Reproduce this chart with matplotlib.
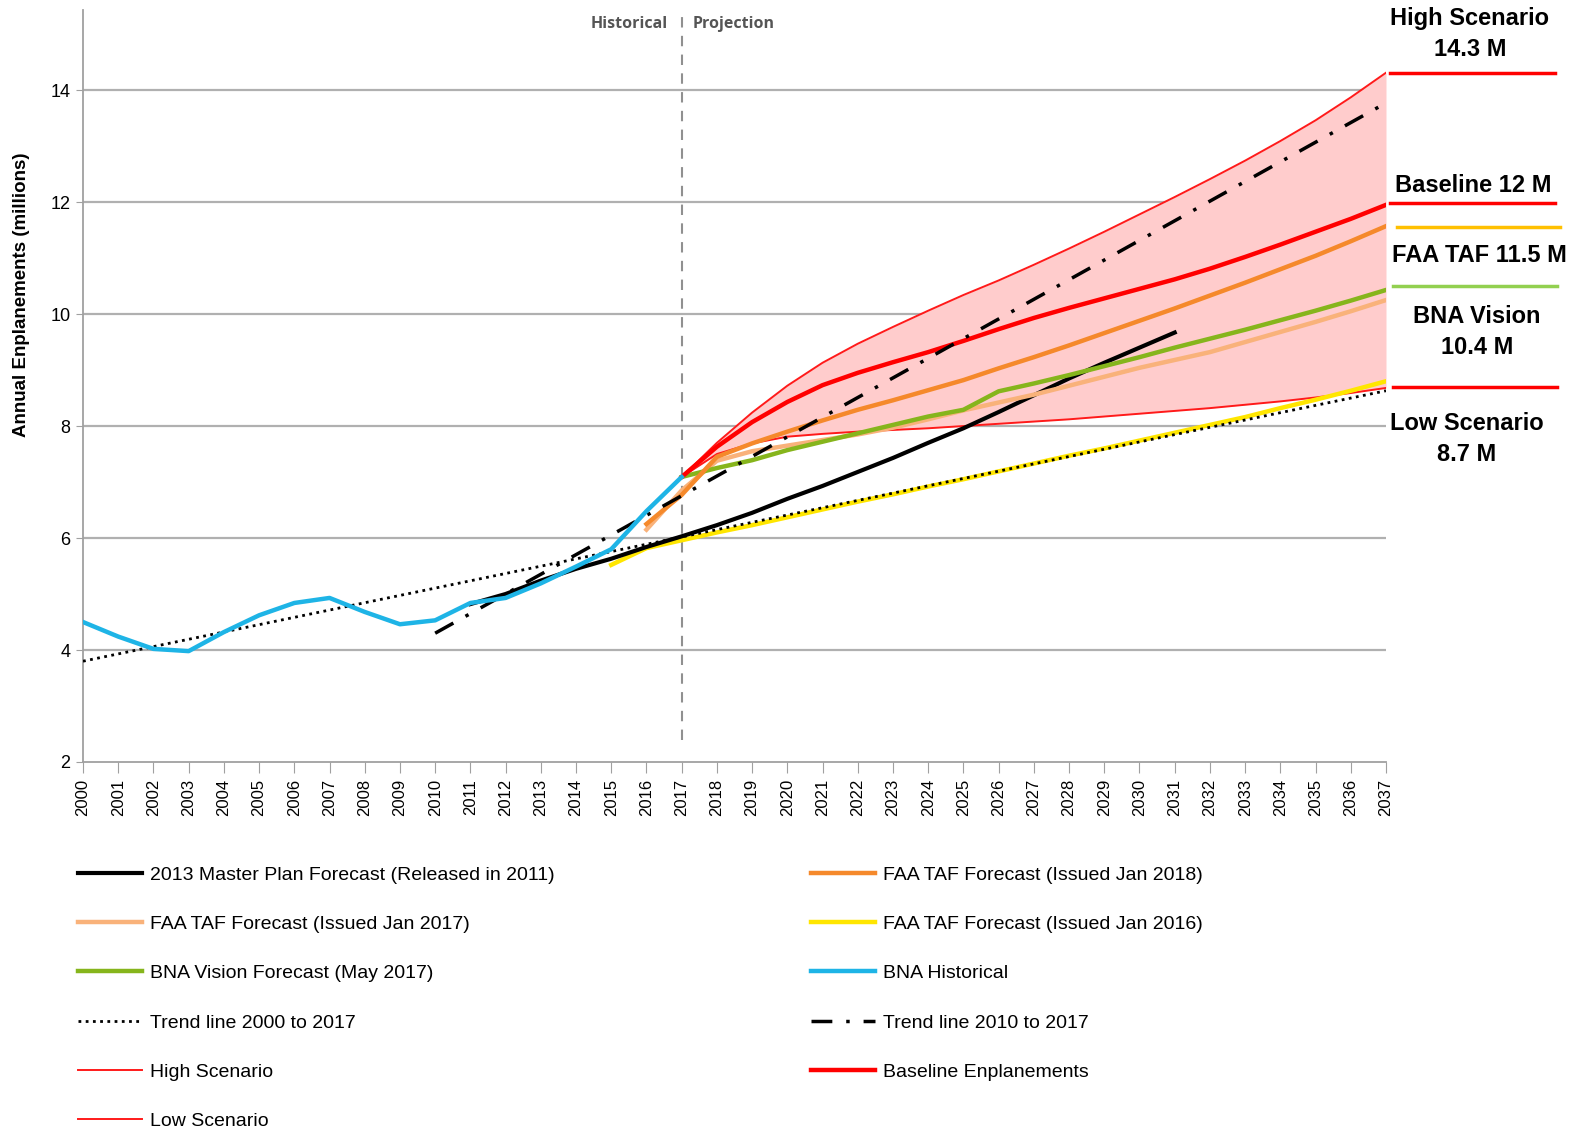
import numpy as np
import matplotlib
matplotlib.use("Agg")
import matplotlib.pyplot as plt
from matplotlib import font_manager

# font: narrow sans if available
names = {f.name for f in font_manager.fontManager.ttflist}
NARROW = 'Liberation Sans Narrow' if 'Liberation Sans Narrow' in names else 'Liberation Sans'
plt.rcParams['font.family'] = [NARROW, 'DejaVu Sans']

# ---- data (millions of enplanements) ----
hist_years = list(range(2000, 2018))
bna_historical = [4.50, 4.24, 4.02, 3.98, 4.32, 4.62, 4.84, 4.93, 4.68, 4.46,
                  4.53, 4.84, 4.93, 5.19, 5.49, 5.80, 6.48, 7.09]

mp_years = list(range(2011, 2032))
master_plan = [4.82, 5.00, 5.24, 5.45, 5.63, 5.84, 6.03, 6.23, 6.45, 6.70, 6.93,
               7.18, 7.43, 7.70, 7.96, 8.25, 8.55, 8.85, 9.13, 9.40, 9.67]

taf16_years = list(range(2015, 2038))
taf_2016 = [5.52, 5.82, 5.96, 6.10, 6.23, 6.37, 6.51, 6.65, 6.78, 6.92, 7.05, 7.19,
            7.33, 7.47, 7.60, 7.74, 7.88, 8.02, 8.16, 8.32, 8.47, 8.63, 8.80]

taf_years = list(range(2016, 2038))
taf_2017 = [6.15, 6.85, 7.38, 7.55, 7.65, 7.75, 7.85, 7.97, 8.12, 8.28, 8.42,
            8.56, 8.72, 8.88, 9.04, 9.18, 9.32, 9.50, 9.68, 9.86, 10.05, 10.25]
taf_2018 = [6.25, 6.77, 7.45, 7.69, 7.90, 8.10, 8.29, 8.46, 8.64, 8.82, 9.03,
            9.23, 9.44, 9.66, 9.88, 10.10, 10.33, 10.56, 10.80, 11.04, 11.30, 11.57]

proj_years = list(range(2017, 2038))
bna_vision = [7.09, 7.25, 7.39, 7.57, 7.72, 7.87, 8.02, 8.17, 8.29, 8.62, 8.76,
              8.91, 9.07, 9.23, 9.40, 9.56, 9.72, 9.89, 10.06, 10.24, 10.43]
baseline = [7.09, 7.63, 8.07, 8.43, 8.73, 8.95, 9.14, 9.32, 9.52, 9.73, 9.93,
            10.11, 10.28, 10.45, 10.62, 10.81, 11.02, 11.24, 11.47, 11.70, 11.95]
high_scen = [7.09, 7.70, 8.24, 8.72, 9.13, 9.47, 9.77, 10.06, 10.34, 10.60, 10.88,
             11.17, 11.47, 11.78, 12.09, 12.41, 12.74, 13.09, 13.46, 13.87, 14.31]
low_scen = [7.09, 7.50, 7.69, 7.81, 7.86, 7.90, 7.93, 7.96, 8.00, 8.04, 8.08,
            8.12, 8.17, 8.22, 8.27, 8.32, 8.38, 8.44, 8.51, 8.59, 8.68]

trend00_years = [2000, 2037]
trend00 = [3.80, 8.63]
trend10_years = [2010, 2037]
trend10 = [4.30, 13.77]

years_axis = list(range(2000, 2038))

fig = plt.figure(figsize=(15.7, 11.3), dpi=100)
ax = fig.add_axes([83 / 1570, 1 - 762 / 1130, (1386 - 83) / 1570, (762 - 10) / 1130])

ax.fill_between(proj_years, low_scen, high_scen, color='#ffcccc', lw=0, zorder=1)
h_high, = ax.plot(proj_years, high_scen, color='#ff1a1a', lw=1.4, zorder=3, label='High Scenario')
h_low, = ax.plot(proj_years, low_scen, color='#ff1a1a', lw=1.4, zorder=3, label='Low Scenario')
h_taf16, = ax.plot(taf16_years, taf_2016, color='#ffe600', lw=3.2, zorder=4,
                   label='FAA TAF Forecast (Issued Jan 2016)')
h_t00, = ax.plot(trend00_years, trend00, color='black', lw=2, ls=(0, (1, 1.6)), zorder=5,
                 label='Trend line 2000 to 2017')
h_mp, = ax.plot(mp_years, master_plan, color='black', lw=3, zorder=4,
                label='2013 Master Plan Forecast (Released in 2011)')
h_taf17, = ax.plot(taf_years, taf_2017, color='#f9b27a', lw=3.2, zorder=4,
                   label='FAA TAF Forecast (Issued Jan 2017)')
h_vis, = ax.plot(proj_years, bna_vision, color='#86b51c', lw=3.2, zorder=4,
                 label='BNA Vision Forecast (May 2017)')
h_taf18, = ax.plot(taf_years, taf_2018, color='#f5892b', lw=3.2, zorder=4,
                   label='FAA TAF Forecast (Issued Jan 2018)')
h_base, = ax.plot(proj_years, baseline, color='#ff0000', lw=3.2, zorder=5,
                  label='Baseline Enplanements')
h_t10, = ax.plot(trend10_years, trend10, color='black', lw=2.5, ls=(0, (6, 4, 1, 4)), zorder=6,
                 label='Trend line 2010 to 2017')
h_hist, = ax.plot(hist_years, bna_historical, color='#1eb4e6', lw=3.2, zorder=6,
                  label='BNA Historical')

# historical / projection divider
ax.plot([2017, 2017], [2.4, 15.45], color='#909090', lw=1.5, ls=(0, (5, 4)), zorder=2)
ax.text(2016.6, 15.18, 'Historical', ha='right', va='center', fontsize=11.5,
        fontweight='bold', color='#555555', family=['Open Sans', 'DejaVu Sans'])
ax.text(2017.3, 15.18, 'Projection', ha='left', va='center', fontsize=11.5,
        fontweight='bold', color='#555555', family=['Open Sans', 'DejaVu Sans'])

ax.set_xlim(2000, 2037)
ax.set_ylim(2, 15.43)
ax.set_yticks([2, 4, 6, 8, 10, 12, 14])
ax.set_xticks(years_axis)
ax.set_xticklabels([str(y) for y in years_axis], rotation=90, fontsize=12)
ax.tick_params(axis='y', labelsize=13, length=5, color='#a0a0a0', pad=4)
ax.tick_params(axis='x', length=8, color='#a0a0a0', pad=4)
for y in [4, 6, 8, 10, 12, 14]:
    ax.axhline(y, color='#b0b0b0', lw=1.6, zorder=0)
for s in ['top', 'right']:
    ax.spines[s].set_visible(False)
for s in ['left', 'bottom']:
    ax.spines[s].set_color('#a0a0a0')
    ax.spines[s].set_linewidth(1.3)
ax.set_ylabel('Annual Enplanements (millions)', fontsize=13.5, fontweight='bold',
              family=['Liberation Sans', 'DejaVu Sans'])
ax.yaxis.set_label_coords(-0.041, 0.622)

# right-side summary labels
def fx(px):
    return px / 1570
def fy(py):
    return 1 - py / 1130

right_marks = [(14.3, '#ff0000', 1390, 1555), (11.98, '#ff0000', 1390, 1555),
               (11.55, '#ffc000', 1397, 1560), (10.5, '#92d050', 1393, 1557),
               (8.7, '#ff0000', 1393, 1557)]
for val, col, x0, x1 in right_marks:
    yp = 762 - (val - 2) * 56
    fig.add_artist(plt.Line2D([fx(x0), fx(x1)], [fy(yp), fy(yp)], color=col, lw=2.5))

right_texts = [('High Scenario\n14.3 M', 1470, 34), ('Baseline 12 M', 1473, 185),
               ('FAA TAF 11.5 M', 1479, 256), ('BNA Vision\n10.4 M', 1477, 332),
               ('Low Scenario\n8.7 M', 1467, 439)]
for txt, xp, yp in right_texts:
    fig.text(fx(xp), fy(yp), txt, ha='center', va='center', fontsize=17,
             fontweight='bold', linespacing=1.45)

handles = [h_mp, h_taf17, h_vis, h_t00, h_high, h_low,
           h_taf18, h_taf16, h_hist, h_t10, h_base]
leg = fig.legend(handles=handles, ncol=2, loc='upper left',
                 bbox_to_anchor=(78 / 1570, 1 - 866 / 1130), frameon=False,
                 fontsize=14, handlelength=3.3, handletextpad=0.4,
                 labelspacing=1.63, columnspacing=13.2, borderpad=0, borderaxespad=0)

fig.savefig('out.png', dpi=100)
